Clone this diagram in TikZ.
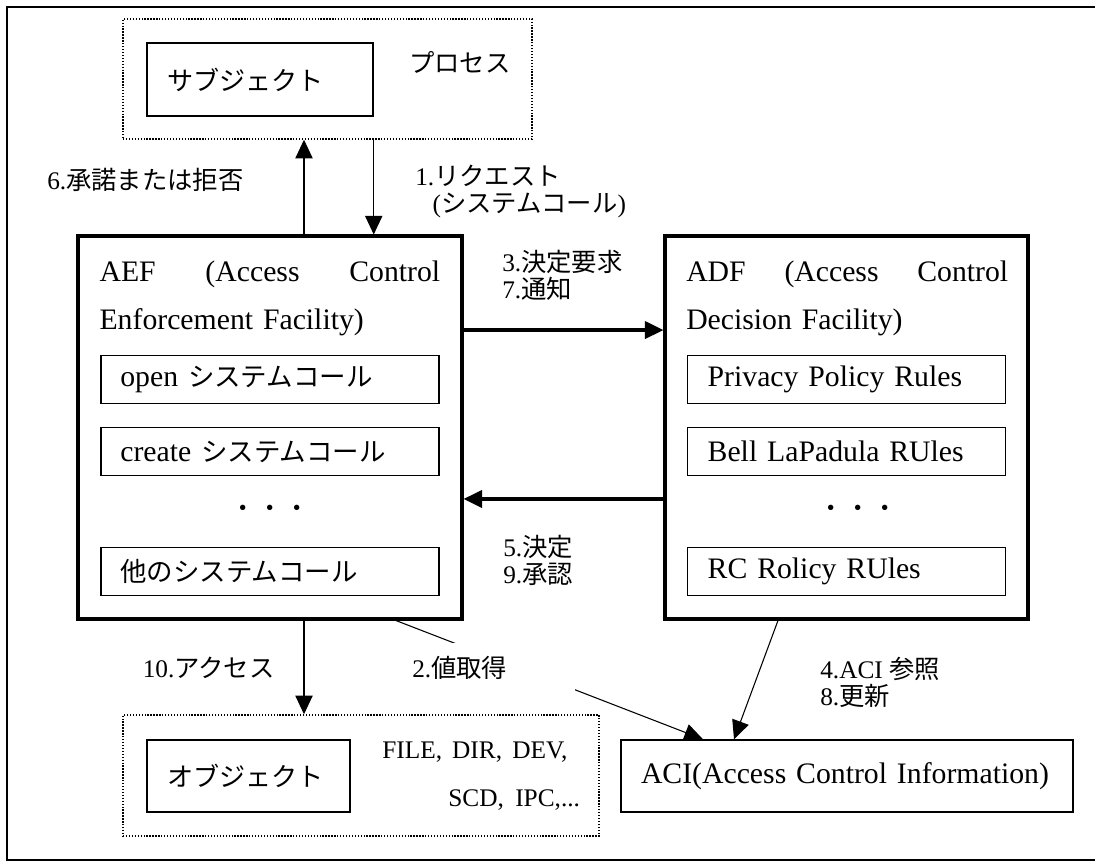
\documentclass[tikz,border=0pt]{standalone}
\usepackage{fontspec}
\setmainfont{Liberation Serif}
\newfontfamily\jp{Noto Sans CJK JP}
\newfontfamily\jpbox[Scale=0.89]{Noto Sans CJK JP}
\usetikzlibrary{arrows.meta}
\newcommand{\bigfs}{\fontsize{22.3pt}{26pt}\selectfont}
\newcommand{\smallfs}{\fontsize{19pt}{20.25pt}\selectfont}

\begin{document}
\begin{tikzpicture}[x=0.75pt, y=-0.75pt,
    dotbox/.style={draw, line width=1.1pt, dash pattern=on 1pt off 1.2pt},
    thinbox/.style={draw, line width=1.1pt},
    bigbox/.style={draw, line width=2.3pt, minimum height=287.25pt},
    title/.style={anchor=base west, inner sep=0pt, align=left, font=\fontsize{22.3pt}{35.5pt}\selectfont},
    callbox/.style={thinbox, inner xsep=14.5pt, inner ysep=0pt, minimum height=36pt, align=left, font=\bigfs},
    dots/.style={font=\smallfs},
    lbl/.style={inner sep=0pt, anchor=west, align=left, font=\smallfs},
    arr/.style={-{Triangle[length=14pt,width=13pt]}, line width=0.8pt},
    thickarr/.style={arr, line width=2.4pt}]

    \fill[white] (0,0) rectangle (1095,861);
    \useasboundingbox (0,0) rectangle (1095,861);
    \draw[line width=1.5pt] (1100,7) -- (7,7) -- (7,860) -- (1100,860);

    % process
    \node[dotbox, minimum width=306.75pt, minimum height=90pt] (proc) at (327.5,79) {};
    \node[thinbox, minimum height=54.75pt, text width=139.5pt, inner xsep=15pt, align=left, font=\fontsize{19.6pt}{24pt}\selectfont] (subj) at (260,79.5) {\jp サブジェクト};
    \node[lbl] (proclbl) at (409,62) {\jp プロセス};

    % AEF
    \node[bigbox, minimum width=288pt] (aef) at (270,427.5) {};
    \node[title, text width=255.5pt] (aefttl) at (99.3,281.7) {AEF\hfill(Access\hfill Control\\Enforcement Facility)};
    \node[callbox, text width=224.5pt] (open) at (270,379.5) {open {\jpbox システムコール}};
    \node[callbox, text width=224.5pt] (create) at (270,451.5) {create {\jpbox システムコール}};
    \node[dots] (aefdots) at (270,511) {\jp ・\kern1.2pt・\kern1.2pt・};
    \node[callbox, text width=224.5pt] (other) at (270,571.4) {\jpbox 他のシステムコール};

    % ADF
    \node[bigbox, minimum width=272.25pt] (adf) at (846.5,427.5) {};
    \node[title, text width=241.5pt] (adfttl) at (686,281.7) {ADF\hfill(Access\hfill Control\\Decision Facility)};
    \node[callbox, text width=208.5pt, inner xsep=15pt] (privacy) at (846.7,379.5) {Privacy Policy Rules};
    \node[callbox, text width=208.5pt, inner xsep=15pt] (blp) at (846.7,451.5) {Bell LaPadula RUles};
    \node[dots] (adfdots) at (858,511) {\jp ・\kern1.2pt・\kern1.2pt・};
    \node[callbox, text width=208.5pt, inner xsep=15pt] (rc) at (846.7,571.4) {RC Rolicy RUles};

    % object
    \node[dotbox, minimum width=357pt, minimum height=90.75pt] (obj) at (361,775.5) {};
    \node[thinbox, minimum height=54pt, text width=122.25pt, inner xsep=15pt, align=left, font=\fontsize{19.6pt}{24pt}\selectfont] (objbox) at (248.5,776) {\jp オブジェクト};
    \node[lbl] (objtypes) at (382,776) {FILE,\hspace{.4em}DIR,\hspace{.4em}DEV,\\[15.75pt]\hspace*{49.5pt}SCD,\hspace{.45em}IPC,...};

    % ACI
    \node[thinbox, minimum height=54pt, text width=309pt, inner xsep=15pt, align=left, font=\bigfs] (aci) at (847,776) {ACI(Access Control Information)};

    % connectors
    \coordinate (up6) at ([xshift=25.5pt]aef.north);
    \draw[arr] (up6) -- (up6 |- proc.south);
    \draw[arr] (subj.east |- proc.south) -- (subj.east |- aef.north);
    \coordinate (dn10) at ([xshift=25.5pt]aef.south);
    \draw[arr] (dn10) -- (dn10 |- obj.north);
    \coordinate (r37) at ([yshift=73.1pt]aef.east);
    \draw[thickarr] (r37) -- (r37 -| adf.west);
    \coordinate (r59) at ([yshift=-53.6pt]adf.west);
    \draw[thickarr] (r59) -- (r59 -| aef.east);
    \draw[arr] ([xshift=94.5pt]aef.south) -- ([xshift=-108pt]aci.north);
    \draw[arr] ([xshift=-51.4pt]adf.south) -- ([xshift=-84.75pt]aci.north);

    % labels
    \node[lbl] (l6) at (47,180) {6.{\jp 承諾または拒否}};
    \node[lbl] (l1) at (415,191.5) {1.{\jp リクエスト}\\\hspace*{13pt}({\jp システムコール})};
    \node[lbl] (l37) at (502,275.5) {3.{\jp 決定要求}\\7.{\jp 通知}};
    \node[lbl] (l59) at (503,560.5) {5.{\jp 決定}\\9.{\jp 承認}};
    \node[lbl] (l10) at (142.5,668) {10.{\jp アクセス}};
    \node[lbl, fill=white, text width=122pt, minimum height=37.5pt] (l2) at (412,668) {2.{\jp 値取得}};
    \node[lbl] (l48) at (820,682.5) {4.ACI {\jp 参照}\\8.{\jp 更新}};
\end{tikzpicture}
\end{document}
